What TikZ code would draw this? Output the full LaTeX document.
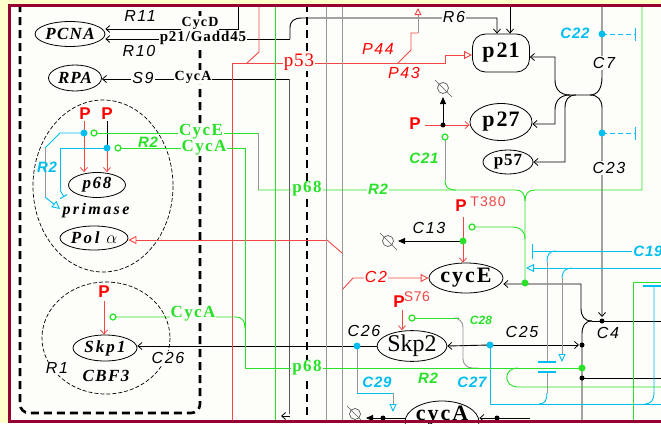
\documentclass[tikz,border=0pt]{standalone}
\usepackage{fontspec}
\setmainfont{Liberation Serif}
\setsansfont{Liberation Sans}
\usetikzlibrary{arrows.meta,shapes.geometric}
\definecolor{cy}{RGB}{0,190,240}
\definecolor{gr}{RGB}{40,225,40}
\definecolor{rd}{RGB}{255,0,0}
\definecolor{lrd}{RGB}{240,70,70}
\definecolor{gy}{RGB}{150,150,150}
\definecolor{dgy}{RGB}{90,90,90}
\definecolor{bgc}{RGB}{253,253,249}
\definecolor{yel}{RGB}{255,255,204}
\definecolor{mar}{RGB}{150,0,50}
\newcommand\myfs[1]{\fontsize{#1}{#1}\selectfont}
\newcommand\lsp[1]{\addfontfeature{LetterSpace=#1}}
\begin{document}
\begin{tikzpicture}[x=1pt,y=-1pt,line width=0.9pt,
  >={Straight Barb[length=4pt,width=7pt,line width=0.8pt]},
  otri/.tip={Triangle[open,length=8pt,width=8pt,line width=0.9pt]},
  ftri/.tip={Triangle[length=7pt,width=6pt]},
  lab/.style={font=\myfs{16}\sffamily\itshape\lsp{10},inner sep=1pt},
  clab/.style={font=\myfs{15}\sffamily\bfseries\itshape\lsp{5},inner sep=1pt},
  glab/.style={font=\myfs{17}\bfseries\lsp{8},text=gr,fill=bgc,inner sep=1pt},
  blab/.style={font=\myfs{14}\bfseries\lsp{8},fill=bgc,inner sep=1pt},
  ell/.style={draw,ellipse,inner sep=0pt,line width=0.8pt,fill=bgc},
  bi/.style={font=\myfs{17}\bfseries\itshape\lsp{#1}},
  bdot/.style={circle,fill=black,inner sep=0pt,minimum size=5pt},
  cdot/.style={circle,fill=cy,inner sep=0pt,minimum size=7pt},
  gdot/.style={circle,fill=gr,inner sep=0pt,minimum size=7pt},
  gcirc/.style={circle,draw=gr,line width=1.2pt,inner sep=0pt,minimum size=6pt,fill=bgc},
  pP/.style={text=rd,font=\myfs{17}\sffamily\bfseries,inner sep=0pt},
  degsym/.style={circle,draw=dgy,inner sep=0pt,minimum size=11pt,line width=0.7pt},
]
\path[use as bounding box] (0,0) rectangle (661,423);
\fill[yel] (0,0) rectangle (661,423);
\fill[bgc] (11,7) rectangle (661,420);

% thick dashed separators
\draw[line width=2.6pt,dash pattern=on 8pt off 5pt,rounded corners=9pt] (20,4) -- (20,413) -- (200,413) -- (200,4);
\draw[line width=2.6pt,dash pattern=on 8pt off 5pt] (307,4) -- (307,423);
% thin dashed complexes
\draw[line width=0.7pt,dash pattern=on 4pt off 2pt] (103,186) ellipse [x radius=70, y radius=86];
\draw[line width=0.7pt,dash pattern=on 4pt off 2pt] (106,338) ellipse [x radius=64, y radius=56];

% main nodes
\node[ell,minimum width=68pt,minimum height=25pt,bi=8] (PCNA) at (70,34) {PCNA};
\node[ell,minimum width=53pt,minimum height=26pt,bi=6] (RPA) at (75,78) {RPA};
\node[ell,minimum width=57pt,minimum height=25pt,bi=10] (p68) at (97,185) {p68};
\node[inner sep=0pt,font=\myfs{16}\bfseries\itshape\lsp{15}] (prim) at (96,211) {primase};
\node[ell,minimum width=68pt,minimum height=24pt,bi=15] (pola) at (94,238) {Pol $\alpha$};
\node[ell,minimum width=64pt,minimum height=26pt,bi=12] (skp1) at (105,348) {Skp1};
\node[inner sep=0pt,bi=8] (cbf) at (106,376) {CBF3};
\node[draw,fill=bgc,rounded corners=13pt,minimum width=57pt,minimum height=38pt,font=\myfs{22}\bfseries,inner sep=0pt,line width=0.8pt] (p21) at (501,53) {p\kern2pt 2\kern1pt 1};
\node[ell,minimum width=62pt,minimum height=37pt,font=\myfs{22}\bfseries] (p27) at (501,122) {p\kern2pt 2\kern1pt 7};
\node[ell,minimum width=50pt,minimum height=24pt,font=\myfs{17}\bfseries] (p57) at (508,162) {p\kern1pt 5\kern1pt 7};
\node[ell,minimum width=74pt,minimum height=30pt,font=\myfs{22}\bfseries] (cycE) at (466,278) {c\kern2pt y\kern2pt c\kern2pt E};
\node[ell,minimum width=65pt,minimum height=28pt,font=\myfs{24}] (skp2) at (412,346) {Skp2};
\node[ell,minimum width=74pt,minimum height=42pt] (cycA) at (442,422) {};
\node[font=\myfs{22}\bfseries,inner sep=0pt,anchor=base] (cycAt) at (442,420) {c\kern2pt y\kern2pt c\kern2pt A};

% ---- black connectors
\draw[->] (238,4) -- (238,29) -- (PCNA.east |- 0,29);
\draw[->] (290,39) -- (PCNA.east |- 0,39);
\draw[->] (290,39) -- (290,28) .. controls (290,21) and (294,18) .. (302,18) -- (497,18) -- (p21.north -| 497,0);
\draw[->] (510,4) -- (p21.north -| 510,0);
\draw[dgy] (289,414) -- (289,79);
\draw[->] (289,79) -- (RPA.east |- 0,79);
\draw[->] (290,416) -- (281,416);
\draw (602,4) -- (602,77) .. controls (602,88) and (598,95) .. (590,95) -- (570,95);
\draw[->] (570,95) .. controls (559,95) and (555,88) .. (555,80) -- (555,57) -- (p21.east |- 0,57);
\draw[->] (570,95) .. controls (559,95) and (555,102) .. (555,110) -- (555,124) -- (p27.east |- 0,124);
\draw[->] (576,95) .. controls (568,95) and (565,100) .. (565,108) -- (565,162) -- (p57.east |- 0,162);
\draw[->] (590,95) .. controls (598,95) and (602,100) .. (602,108) -- (602,317);
\draw[-ftri] (443,125) -- (443,97);
\draw[-ftri] (463,241) -- (398,241);
\draw[->] (592,321) .. controls (584,321) and (581,316) .. (581,308) -- (581,284) -- (cycE.east |- 0,284);
\draw (592,321) .. controls (585,321) and (582,326) .. (582,334) -- (582,423);
\draw (592,321) -- (661,321);
\draw (582,378) -- (661,378);
\draw[->] (490,345) -- (skp2.east);
\draw[->] (490,345) -- (579,345);
\draw[->] (skp2.west) -- (skp1.east |- 0,346);
\draw[-ftri] (cycA.west |- 0,418) -- (366,418);
\draw[->] (530,418) -- (cycA.east |- 0,418);
\draw (107,121) -- (107,148);

% ---- red connectors
\draw[lrd] (259,4) -- (259,52) -- (247,63);
\draw[lrd,-otri] (232,423) -- (232,63) -- (445,63) -- (445,55) -- (p21.west |- 0,55);
\draw[lrd] (398,63) -- (411,50) -- (411,33) -- (418,33);
\draw[gy,-{Triangle[open,length=7pt,width=7pt,color=lrd]}] (418,33) -- (418,8);
\draw[lrd,-otri] (327,240) -- (pola.east |- 0,240);
\draw[lrd] (327,240) -- (342,253);
\draw[lrd,-otri] (342,290) -- (353,278) -- (cycE.west |- 0,278);
\draw[lrd,->] (84,121) -- (p68.north -| 84,0);
\draw[lrd,->] (107,148) -- (p68.north -| 107,0);
\draw[lrd,->] (104,301) -- (skp1.north -| 104,0);
\draw[lrd,->] (425,125) -- (p27.west |- 0,125);
\draw[lrd,->] (463,217) -- (cycE.north -| 463,0);
\draw[lrd,->] (402,310) -- (skp2.north -| 402,0);

% ---- cyan connectors
\draw[cy] (84,133) -- (60,133) -- (45,148);
\draw[gy] (45,148) -- (45,197);
\draw[cy,-otri] (45,197) -- (60,209);
\draw[cy] (107,148) -- (60,148) -- (60,190);
\draw[cy,-{Bar[width=8pt,line width=1pt]}] (60,190) -- (64,197);
\draw[cy,dash pattern=on 5pt off 3pt,-{Bar[width=13pt,line width=1.3pt]}] (602,34) -- (636,34);
\draw[cy,dash pattern=on 5pt off 3pt,-{Bar[width=13pt,line width=1.3pt]}] (602,133) -- (636,133);
\draw[cy,{Bar[width=15pt,line width=1.3pt]}-] (532,251) -- (632,251);
\draw[cy,-otri] (661,268) -- (526,268);
\draw[cy] (556,251) .. controls (549,251) and (547,255) .. (547,262);
\draw[gy] (547,262) -- (547,361);
\draw[cy,line width=1.3pt] (538,362) -- (556,362);
\draw[cy,line width=1.3pt] (538,372) -- (556,372);
\draw[gy] (547,373) -- (547,393);
\draw[cy] (547,393) .. controls (547,400) and (545,404) .. (539,404);
\draw[cy] (572,268) .. controls (565,268) and (562,272) .. (562,278);
\draw[gy,-{Triangle[open,length=8pt,width=7pt,color=cy]}] (562,278) -- (562,362);
\draw[cy] (490,345) -- (490,404) -- (661,404);
\draw[gy] (357,346) -- (357,393);
\draw[cy] (357,393) -- (393,393);
\draw[gy,-{Triangle[open,length=8pt,width=7pt,color=cy]}] (393,393) -- (393,412);
\draw[cy,line width=1.3pt] (643,286) -- (661,286);
\draw[cy] (654,286) -- (654,392) .. controls (654,400) and (651,404) .. (645,404);

% ---- grey and green connectors
\draw[gy] (326,4) -- (326,423);
\draw[gy] (342,4) -- (342,423);
\draw[gr] (275,4) -- (275,423);
\draw[gy,rounded corners=9pt] (459,318) -- (463,318) -- (463,368) -- (478,368);
\draw[gr] (97,133) -- (258,133);
\draw[gy] (258,133) -- (258,190);
\draw[gr] (258,190) -- (516,190) .. controls (522,190) and (525,194) .. (525,201) -- (525,283);
\draw[gr] (642,4) -- (642,190) -- (535,190) .. controls (528,190) and (525,194) .. (525,201);
\draw[gr] (121,148) -- (245,148) -- (245,368) -- (582,368);
\draw[gr] (116,317) -- (236,317) .. controls (242,317) and (245,321) .. (245,328);
\draw[gr] (518,368) .. controls (503,368) and (503,387) .. (518,387) -- (661,387);
\draw[gr] (475,227) -- (513,227) .. controls (520,227) and (525,231) .. (525,239);
\draw[gy] (445,140) -- (445,180);
\draw[gr] (445,180) .. controls (445,187) and (448,190) .. (456,190);
\draw[gr] (415,318) -- (459,318);
\draw[gr] (633,423) -- (633,282) -- (661,282);

% ---- degradation symbols
\node[degsym] (dg1) at (443,88) {};
\draw[dgy,line width=0.7pt] (435,80) -- (452,97);
\node[degsym] (dg2) at (388,241) {};
\draw[dgy,line width=0.7pt] (380,233) -- (397,250);
\node[degsym] (dg3) at (355,414) {};
\draw[dgy,line width=0.7pt] (347,406) -- (363,422);

% ---- dots and small circles
\node[cdot] (cd1) at (84,133) {};
\node[cdot] (cd2) at (107,148) {};
\node[gcirc] (gc1) at (94,133) {};
\node[gcirc] (gc2) at (118,148) {};
\node[gcirc] (gc3) at (113,317) {};
\node[gcirc] (gc4) at (445,137) {};
\node[gcirc] (gc5) at (472,227) {};
\node[gcirc] (gc6) at (412,318) {};
\node[bdot] (bd1) at (443,125) {};
\node[gdot] (gd1) at (463,241) {};
\node[gdot] (gd2) at (525,283) {};
\node[cdot] (cd3) at (602,34) {};
\node[cdot] (cd4) at (602,133) {};
\node[bdot] (c4) at (602,321) {};
\node[cdot] (cd5) at (490,345) {};
\node[cdot] (cd6) at (357,346) {};
\node[bdot] (bd2) at (582,345) {};
\node[gdot] (gd3) at (582,368) {};
\node[bdot] (bd3) at (582,378) {};
\node[bdot] (bd4) at (383,418) {};
\node[bdot] (bd5) at (497,418) {};

% ---- labels
\node[lab] (R11) at (140,16) {R11};
\node[lab] (R10) at (139,51) {R10};
\node[blab] (cycDl) at (200,23) {CycD};
\node[blab,font=\myfs{15}\bfseries\lsp{6}] (gaddl) at (203,38) {p21/Gadd45};
\node[lab,fill=bgc] (S9) at (143,78) {S9};
\node[blab] (cycAl) at (193,77) {CycA};
\node[font=\myfs{19}\lsp{5},text=rd,fill=bgc,inner sep=1pt] (p53) at (299,62) {p53};
\node[lab,text=rd] (P44) at (378,49) {P44};
\node[lab,text=rd] (P43) at (404,73) {P43};
\node[lab,fill=bgc] (R6) at (454,17) {R6};
\node[clab,text=cy] (C22) at (575,33) {C22};
\node[lab,fill=bgc] (C7) at (604,63) {C7};
\node[lab,fill=bgc] (C23) at (609,168) {C23};
\node[clab,text=gr] (C21) at (424,158) {C21};
\node[clab,text=gr,fill=bgc] (R2a) at (378,189) {R2};
\node[glab] (p68a) at (307,189) {p68};
\node[glab] (p68b) at (307,368) {p68};
\node[glab] (cycEl) at (201,132) {CycE};
\node[glab] (cycAl2) at (204,148) {CycA};
\node[clab,text=gr,fill=bgc] (R2b) at (148,142) {R2};
\node[glab] (cycAl3) at (193,314) {CycA};
\node[clab,text=cy] (R2c) at (47,167) {R2};
\node[lab,fill=bgc] (R1) at (57,368) {R1};
\node[lab,fill=bgc] (C26a) at (168,358) {C26};
\node[pP] (P1) at (85,114) {P};
\node[pP] (P2) at (107,114) {P};
\node[pP] (P3) at (104,292) {P};
\node[pP] (P4) at (415,124) {P};
\node[pP] (P5) at (461,206) {P};
\node[pP] (P6) at (399,302) {P};
\node[font=\myfs{14}\sffamily\lsp{8},text=lrd,inner sep=0pt] (T380) at (488,202) {T380};
\node[font=\myfs{14}\sffamily\lsp{4},text=lrd,inner sep=0pt] (S76) at (417,297) {S76};
\node[lab] (C13) at (429,228) {C13};
\node[lab,text=rd,fill=bgc] (C2) at (376,277) {C2};
\node[lab] (C26b) at (364,331) {C26};
\node[lab] (C25) at (522,332) {C25};
\node[lab] (C4l) at (608,333) {C4};
\node[clab,text=gr,font=\myfs{12}\sffamily\bfseries\itshape] (C28) at (481,320) {C28};
\node[clab,text=cy] (C29) at (377,382) {C29};
\node[clab,text=gr] (R2d) at (428,378) {R2};
\node[clab,text=cy] (C27) at (472,382) {C27};
\node[clab,text=cy,anchor=west] (C19) at (632,251) {C19};

% ---- frame
\fill[yel] (0,0) rectangle (661,4);
\fill[yel] (0,0) rectangle (8,423);
\draw[mar,line width=3pt] (8,5.5) -- (661,5.5);
\draw[mar,line width=3pt] (9.5,4) -- (9.5,423);
\draw[mar,line width=3pt] (8,421.5) -- (661,421.5);
\end{tikzpicture}
\end{document}
